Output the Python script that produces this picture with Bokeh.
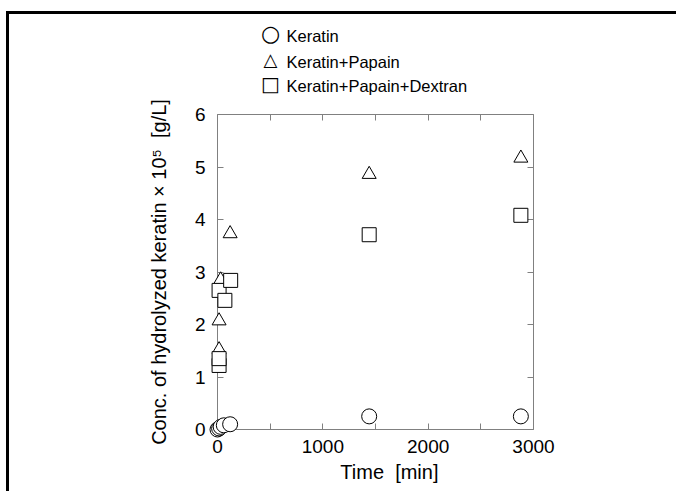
from bokeh.plotting import figure
from bokeh.models import LinearAxis, FixedTicker, Range1d, CustomJSTickFormatter
from bokeh.core.properties import value
from bokeh.embed import file_html
from bokeh.resources import INLINE

# ---- data ----
t_keratin = [0, 15, 30, 60, 120, 1440, 2880]
c_keratin = [0.0, 0.02, 0.05, 0.08, 0.1, 0.25, 0.25]

t_papain = [15, 15, 30, 120, 1440, 2880]
c_papain = [1.52, 2.07, 2.85, 3.73, 4.86, 5.17]

t_dextran = [15, 15, 15, 70, 125, 1440, 2880]
c_dextran = [1.22, 1.35, 2.65, 2.46, 2.84, 3.71, 4.08]

x_major = [0, 1000, 2000, 3000]
x_minor = [500, 1500, 2500]
y_major = [0, 1, 2, 3, 4, 5, 6]

series_labels = ["Keratin", "Keratin+Papain", "Keratin+Papain+Dextran"]
series_symbols = ["\u25cb", "\u25b3", "\u25a1"]
x_title = "\u00a0\u00a0\u00a0\u00a0\u00a0Time \u00a0[min]"
y_title = "Conc. of hydrolyzed keratin \u00d7 10\u2075 \u00a0[g/L]"

FONT = "Liberation Sans"
SYM_FONT = "DejaVu Sans"
AX = "#808080"

X0, X1 = x_major[0], x_major[-1]
Y0, Y1 = y_major[0], y_major[-1]

FRAME_W, FRAME_H = 316, 315
p = figure(width=670, height=480,
           x_range=Range1d(X0, X1), y_range=Range1d(Y0, Y1),
           output_backend="svg", toolbar_location=None,
           min_border_left=208, min_border_right=670 - 208 - FRAME_W,
           min_border_top=100, min_border_bottom=480 - 100 - FRAME_H,
           background_fill_color="white", border_fill_color="white")
p.xgrid.visible = False
p.ygrid.visible = False
p.outline_line_color = None
p.styles = {"border-top": "3px solid black", "border-left": "3px solid black",
            "position": "relative", "left": "6px", "top": "11px"}

# markers drawn at overlay level so they are not cut at the axes
r1 = p.scatter(t_keratin, c_keratin, marker="circle", size=15,
               fill_color="white", line_color="black", line_width=1, level="overlay")
r2 = p.scatter(t_papain, c_papain, marker="triangle", size=14,
               fill_color="white", line_color="black", line_width=1, level="overlay")
r3 = p.scatter(t_dextran, c_dextran, marker="square", size=14,
               fill_color="white", line_color="black", line_width=1, level="overlay")


def style_axis(ax, ticker, labels=True, standoff=8):
    ax.ticker = ticker
    ax.axis_line_color = AX
    ax.major_tick_line_color = AX
    ax.minor_tick_line_color = AX
    ax.major_tick_in = 6
    ax.major_tick_out = 0
    ax.minor_tick_in = 6
    ax.minor_tick_out = 0
    ax.major_label_text_font = FONT
    ax.major_label_text_font_size = "19px"
    ax.major_label_text_color = "black"
    ax.major_label_standoff = standoff
    ax.axis_label_text_font = FONT
    ax.axis_label_text_font_size = "20px"
    ax.axis_label_text_font_style = "normal"
    ax.axis_label_text_color = "black"
    if not labels:
        ax.formatter = CustomJSTickFormatter(code="return ''")
        ax.major_label_text_font_size = "0px"
        ax.major_label_standoff = 0


style_axis(p.xaxis[0], FixedTicker(ticks=x_major, minor_ticks=x_minor), standoff=10)
p.xaxis[0].axis_label = x_title
p.xaxis[0].axis_label_standoff = 5
style_axis(p.yaxis[0], FixedTicker(ticks=y_major, minor_ticks=[]), standoff=12)
p.yaxis[0].axis_label = y_title
p.yaxis[0].axis_label_standoff = 22

top_ax = LinearAxis()
style_axis(top_ax, FixedTicker(ticks=x_major, minor_ticks=x_minor), labels=False)
p.add_layout(top_ax, "above")
right_ax = LinearAxis()
style_axis(right_ax, FixedTicker(ticks=y_major, minor_ticks=[]), labels=False)
p.add_layout(right_ax, "right")

# legend key above the axis box (pixel offsets from the box's top-left corner)
ux = (X1 - X0) / FRAME_W
uy = (Y1 - Y0) / FRAME_H
key_dx, text_dx = 53, 69
row_dy = [79, 53, 29]
sym_lift = 2
sym_size = ["22px", "18px", "20px"]
for sym, dy, sz in zip(series_symbols, row_dy, sym_size):
    p.text([X0 + key_dx * ux], [Y1 + (dy + sym_lift) * uy], text=[sym],
           text_font=value(SYM_FONT), text_font_size=sz, text_baseline="middle",
           text_align="center", text_color="black", level="overlay")
p.text([X0 + text_dx * ux] * 3, [Y1 + d * uy for d in row_dy], text=series_labels,
       text_font=value(FONT), text_font_size="16.5px", text_baseline="middle",
       text_align="left", text_color="black", level="overlay")

open("out.html", "w").write(file_html(p, INLINE))
